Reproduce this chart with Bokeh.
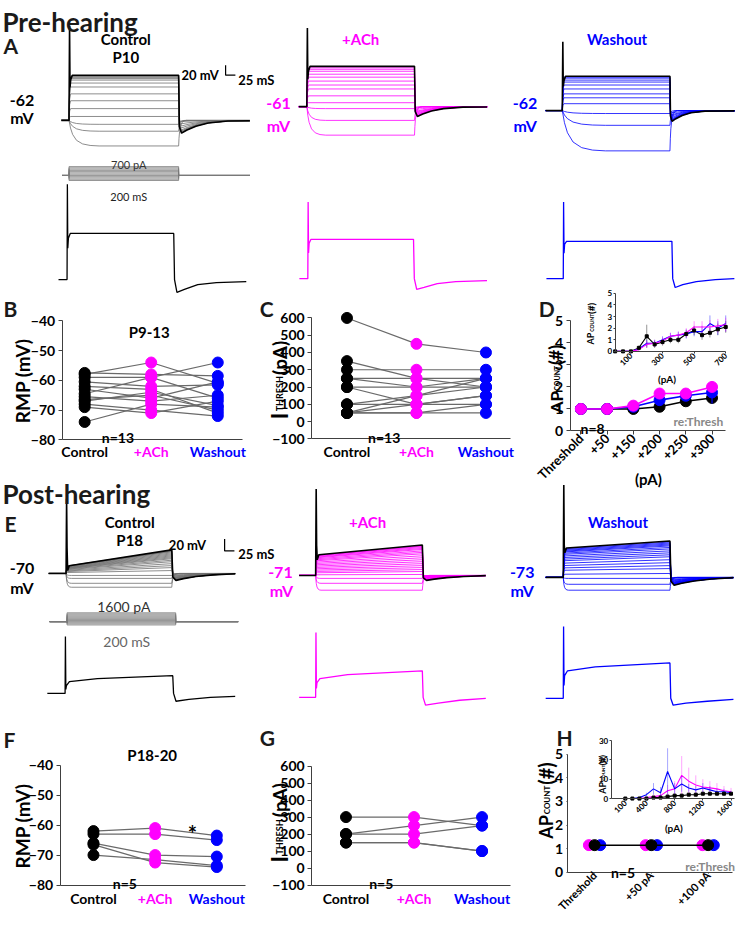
import math
from bokeh.plotting import figure
from bokeh.models import Range1d, Label, FixedTicker, LinearAxis
from bokeh.embed import file_html
from bokeh.resources import INLINE

# ======================= DATA =======================
conditions = ["Control", "+ACh", "Washout"]
cond_x = [1, 2, 3]

# B: RMP pre-hearing (mV), one entry per cell
rmp_pre_ctrl = [-57.5, -58, -59, -60.5, -62, -63, -64.5, -65.5, -66.5, -67, -68, -69, -74]
rmp_pre_ach = [-58, -54, -59, -62, -63, -66, -59, -67, -65, -64, -70, -71, -68]
rmp_pre_wash = [-58.5, -61, -54, -61.5, -71, -60.5, -66, -65, -70, -68.5, -72, -67, -69]

# C: I_thresh pre-hearing (pA)
ith_pre_ctrl = [600, 350, 300, 250, 250, 200, 200, 100, 100, 50, 50, 50, 50]
ith_pre_ach = [450, 250, 300, 250, 200, 100, 200, 150, 100, 100, 50, 50, 150]
ith_pre_wash = [400, 200, 300, 250, 200, 150, 250, 250, 100, 150, 50, 100, 200]

# D: AP count re: threshold (pre-hearing)
ap_pre_steps = ["Threshold", "+50", "+150", "+200", "+250", "+300"]
ap_pre_ctrl = [1, 1, 1.0, 1.1, 1.35, 1.5]
ap_pre_ctrl_err = [0, 0, 0, 0.08, 0.1, 0.18]
ap_pre_wash = [1, 1, 1.1, 1.4, 1.6, 1.75]
ap_pre_wash_err = [0, 0, 0.05, 0.12, 0.15, 0.5]
ap_pre_ach = [1, 1, 1.15, 1.7, 1.7, 2.0]
ap_pre_ach_err = [0, 0, 0.05, 0.1, 0.1, 0.15]

# D inset: AP count vs injected current (pA)
inset_pre_pa = [0, 50, 100, 150, 200, 250, 300, 350, 400, 450, 500, 550, 600, 650, 700]
inset_pre_ctrl = [0, 0, 0, 0.3, 1.3, 0.6, 0.8, 1.0, 1.0, 1.5, 1.8, 1.4, 1.6, 1.9, 2.1]
inset_pre_ctrl_err = [0, 0, 0, 0.2, 1.0, 0.3, 0.3, 0.3, 0.3, 0.3, 0.4, 0.4, 0.4, 0.5, 0.5]
inset_pre_wash = [0, 0, 0, 0.2, 0.7, 0.7, 1.0, 1.3, 1.4, 1.5, 1.7, 1.7, 2.4, 2.0, 2.4]
inset_pre_wash_err = [0, 0, 0, 0.1, 0.3, 0.3, 0.3, 0.3, 0.3, 0.4, 0.4, 0.5, 0.7, 0.6, 0.7]
inset_pre_ach = [0, 0, 0, 0.15, 0.6, 0.7, 0.9, 1.3, 1.4, 1.6, 2.1, 2.1, 2.1, 2.2, 2.3]
inset_pre_ach_err = [0, 0, 0, 0.1, 0.3, 0.3, 0.3, 0.3, 0.3, 0.4, 0.5, 0.5, 0.6, 0.6, 0.6]

# F: RMP post-hearing (mV)
rmp_post_ctrl = [-62, -63, -66, -66.5, -70]
rmp_post_ach = [-61, -63, -70, -72.5, -71.5]
rmp_post_wash = [-63.5, -65, -70.5, -74, -73.5]

# G: I_thresh post-hearing (pA)
ith_post_ctrl = [300, 200, 200, 150, 150]
ith_post_ach = [300, 250, 200, 150, 150]
ith_post_wash = [250, 300, 250, 100, 100]

# H: AP count re: threshold (post-hearing)
ap_post_steps = ["Threshold", "+50 pA", "+100 pA"]
ap_post_ctrl = [1.15, 1.15, 1.15]
ap_post_ach = [1.15, 1.15, 1.15]
ap_post_wash = [1.15, 1.15, 1.15]

# H inset
inset_post_pa = [100, 200, 300, 400, 500, 600, 700, 800, 900, 1000, 1100, 1200, 1300, 1400, 1500, 1600]
inset_post_ctrl = [0, 0, 0, 0, 0.5, 0.5, 1, 1.5, 1.5, 2, 2, 2.5, 2.5, 2.5, 2.5, 2.5]
inset_post_ctrl_err = [0, 0, 0, 0, 0.3, 0.3, 0.5, 0.5, 0.5, 0.5, 0.5, 0.5, 0.5, 0.5, 0.5, 0.5]
inset_post_ach = [0, 0, 0, 0.5, 1, 1.5, 4, 5, 12, 9, 7, 6, 5.5, 5, 4, 3.5]
inset_post_ach_err = [0, 0, 0, 0.5, 1, 1.5, 3, 4, 10, 7, 5, 4, 3.5, 3, 2.5, 2]
inset_post_wash = [0, 0, 0.5, 2, 5, 3, 14, 5, 7.5, 5.5, 4.5, 5.5, 4.5, 3.5, 3.5, 3]
inset_post_wash_err = [0, 0, 0.5, 1, 3, 3, 12, 3, 4, 2, 2, 2.5, 2, 1.5, 1.5, 1]

# Current-clamp protocols (pA)
pre_stim_pa = [-400, -300, -200, -100, 0, 100, 200, 300, 400, 500, 600, 700]
post_stim_pa = [-600, -400, -200, 0, 200, 400, 600, 800, 1000, 1200, 1400, 1600]

# Sweep families: resting potential, steady levels (mV), top sweep level, spike peak
pre_ctrl_rmp, pre_ach_rmp, pre_wash_rmp = -62, -61, -62
post_ctrl_rmp, post_ach_rmp, post_wash_rmp = -70, -71, -73
pre_ctrl_levels = [-88, -73, -66, -58, -50, -42, -35, -28, -24, -21, -19.5, -18.5, -17.5, -17]
pre_ctrl_top, pre_ctrl_peak = -16, 34
pre_ach_levels = [-90, -75, -63, -57, -50, -43, -39, -35, -31, -28, -25, -23, -21.5]
pre_ach_top, pre_ach_peak = -20, 19
pre_wash_levels = [-103, -77, -65, -55, -49, -45, -40, -36, -33, -31, -29, -28]
pre_wash_top, pre_wash_peak = -27, 8
post_ctrl_levels = [-84, -80, -75, -72, -67, -64, -62, -60, -58, -56.5, -55, -54, -53, -52,
                    -51, -50, -49, -48, -47.5, -47, -46.5]
post_ctrl_top, post_ctrl_peak = -46, 6
post_ach_levels = [-86, -79, -74, -70, -67, -65, -63, -61, -59, -57, -55, -53, -51, -49,
                   -47.5, -46, -44.5, -43.5, -42.5, -41.5, -41]
post_ach_top, post_ach_peak = -40, 17
post_wash_levels = [-86, -80, -74, -69, -64, -61, -58, -55, -52, -50, -48, -46, -44,
                    -42.5, -41, -40, -39, -38, -37]
post_wash_top, post_wash_peak = -36, 21

# Representative single sweeps (ms, mV)
single_pre_ctrl_t = [-16, 0, 0.6, 1.4, 2.5, 6, 200, 201.5, 206, 220, 245, 280, 336]
single_pre_ctrl_v = [-62, -62, 35, -30, -20, -15, -15, -62, -75, -72, -67, -65, -64]
single_pre_ach_t = [-16, 0, 0.6, 1.4, 2.5, 6, 200, 201.5, 206, 220, 245, 280, 339]
single_pre_ach_v = [-61, -61, 17, -35, -25, -21, -21, -61, -72, -70, -66, -64, -63]
single_pre_wash_t = [-31, 0, 0.6, 1.4, 2.5, 6, 200, 201.5, 206, 220, 245, 280, 315]
single_pre_wash_v = [-62, -62, 16, -36, -27, -24, -24, -62, -71, -68, -65, -63, -62]
single_post_ctrl_t = [-33, 0, 0.6, 1.4, 2.5, 8, 60, 200, 201.5, 206, 230, 270, 316]
single_post_ctrl_v = [-70, -70, -12, -66, -62, -58, -55, -52, -70, -78, -76, -74, -73]
single_post_ach_t = [-31, 0, 0.6, 1.4, 2.5, 8, 60, 200, 201.5, 206, 230, 270, 319]
single_post_ach_v = [-71, -71, -5, -62, -56, -52, -48, -44, -71, -79, -77, -74, -72]
single_post_wash_t = [-33, 0, 0.6, 1.4, 2.5, 8, 60, 200, 201.5, 206, 230, 270, 319]
single_post_wash_v = [-73, -73, 0, -60, -50, -45, -41, -37, -73, -80, -78, -76, -74]

# ======================= LAYOUT / STYLE =======================
W, H = 736, 915
SX, SY = W / 752.0, H / 931.0
def X(x): return x * SX
def Y(y): return y * SY
def lin(u, ua, ub, da, db): return da + (u - ua) * (db - da) / (ub - ua)

FONT = "Lato"
MAG, BLU, BLK = "#FF00FF", "#0000FF", "#000000"
GRY = "#707070"
LINEG = "#6a6a6a"
AXC = "#404040"
cond_colors = [BLK, MAG, BLU]

HYP_T = [0, 0.05, 0.12, 0.25, 0.45, 0.7, 1.0]
HYP_F = [0, 0.3, 0.55, 0.78, 0.92, 0.98, 1.0]
RET = 14
AHP_T = [0.015, 0.06, 0.17, 0.35, 0.6, 1.0]
AHP_G = [0.5, 1.0, 0.75, 0.45, 0.2, 0.05]

FAM_LAYOUT = {
    "A1": dict(on=70, off=182, base=122, t0=-14, t1=330, r=1.0, settle=55, D=13, rec=90),
    "A2": dict(on=313, off=423, base=108, t0=-15, t1=335, r=1.0, settle=35, D=10, rec=90),
    "A3": dict(on=574, off=684, base=112, t0=-31, t1=320, r=1.0, settle=80, D=11, rec=65),
    "E1": dict(on=67, off=175, base=583, t0=-33, t1=320, r=0.33, settle=10, D=7, rec=130),
    "E2": dict(on=322, off=431, base=585, t0=-31, t1=319, r=0.68, settle=10, D=5, rec=130),
    "E3": dict(on=575, off=684, base=587, t0=-33, t1=319, r=0.81, settle=10, D=8, rec=130),
}
SINGLE_LAYOUT = {
    "A1s": dict(on=68, off=177, base=284), "A2s": dict(on=314, off=422, base=283),
    "A3s": dict(on=575, off=686, base=283), "E1s": dict(on=66, off=176, base=705),
    "E2s": dict(on=322, off=431, base=709), "E3s": dict(on=575, off=684, base=710),
}
STIM_LAYOUT = {
    "A1p": dict(on=70, off=182, y0=178, y1=169, amp1=700, t0=-12.5, t1=330),
    "E1p": dict(on=68, off=179, y0=632, y1=623, amp1=1600, t0=-32, t1=315),
}

p = figure(width=W, height=H, x_range=Range1d(0, W), y_range=Range1d(H, 0),
           min_border=0, toolbar_location=None, output_backend="svg",
           x_axis_location=None, y_axis_location=None)
p.outline_line_color = None
p.background_fill_color = "white"
p.border_fill_color = "white"
p.grid.grid_line_color = None

xr, yr = {}, {}
def reg(name, xa, xb, da, db, ya, yb, va, vb):
    xr[name] = Range1d(lin(0, X(xa), X(xb), da, db), lin(W, X(xa), X(xb), da, db))
    yr[name] = Range1d(lin(H, Y(ya), Y(yb), va, vb), lin(0, Y(ya), Y(yb), va, vb))

fams = [
    ("A1", pre_ctrl_rmp, pre_ctrl_levels, pre_ctrl_top, pre_ctrl_peak, GRY),
    ("A2", pre_ach_rmp, pre_ach_levels, pre_ach_top, pre_ach_peak, MAG),
    ("A3", pre_wash_rmp, pre_wash_levels, pre_wash_top, pre_wash_peak, BLU),
    ("E1", post_ctrl_rmp, post_ctrl_levels, post_ctrl_top, post_ctrl_peak, GRY),
    ("E2", post_ach_rmp, post_ach_levels, post_ach_top, post_ach_peak, MAG),
    ("E3", post_wash_rmp, post_wash_levels, post_wash_top, post_wash_peak, BLU),
]
singles = [
    ("A1s", pre_ctrl_rmp, single_pre_ctrl_t, single_pre_ctrl_v, BLK),
    ("A2s", pre_ach_rmp, single_pre_ach_t, single_pre_ach_v, MAG),
    ("A3s", pre_wash_rmp, single_pre_wash_t, single_pre_wash_v, BLU),
    ("E1s", post_ctrl_rmp, single_post_ctrl_t, single_post_ctrl_v, BLK),
    ("E2s", post_ach_rmp, single_post_ach_t, single_post_ach_v, MAG),
    ("E3s", post_wash_rmp, single_post_wash_t, single_post_wash_v, BLU),
]
for name, V0, *_ in fams:
    s = FAM_LAYOUT[name]
    reg(name, s["on"], s["off"], 0, 200, s["base"], s["base"] - 100, V0, V0 + 100)
for name, V0, *_ in singles:
    s = SINGLE_LAYOUT[name]
    reg(name, s["on"], s["off"], 0, 200, s["base"], s["base"] - 100, V0, V0 + 100)
for name, s in STIM_LAYOUT.items():
    reg(name, s["on"], s["off"], 0, 200, s["y0"], s["y1"], 0, s["amp1"])

PANELS = {
    "B": dict(frame=(63, 326, 247, 447), xa=(86, 1, 222, 3), ya=(447, -80, 326, -40)),
    "C": dict(frame=(318, 323, 521, 446), xa=(354, 1, 496, 3), ya=(446, -100, 323, 600)),
    "D": dict(frame=(582, 326, 741, 438), xa=(593, 1, 727, 6), ya=(438, 0, 326, 5)),
    "Di": dict(frame=(628, 298, 741, 357), xa=(628, 0, 741, 700), ya=(357, 0, 298, 5)),
    "F": dict(frame=(61, 778, 250, 900), xa=(95, 1, 221, 3), ya=(900, -80, 778, -40)),
    "G": dict(frame=(318, 779, 521, 900), xa=(353, 1, 492, 3), ya=(900, -100, 779, 600)),
    "H": dict(frame=(579, 767, 748, 887), xa=(607, 1, 723, 3), ya=(887, 0, 767, 5)),
    "Hi": dict(frame=(624, 753, 750, 812), xa=(624, -100, 750, 1650), ya=(812, 0, 753, 30)),
}
LIMS = {}
for name, s in PANELS.items():
    xa, ya, fr = s["xa"], s["ya"], s["frame"]
    reg(name, xa[0], xa[2], xa[1], xa[3], ya[0], ya[2], ya[1], ya[3])
    LIMS[name] = (lin(X(fr[0]), X(xa[0]), X(xa[2]), xa[1], xa[3]),
                  lin(X(fr[2]), X(xa[0]), X(xa[2]), xa[1], xa[3]),
                  lin(Y(fr[3]), Y(ya[0]), Y(ya[2]), ya[1], ya[3]),
                  lin(Y(fr[1]), Y(ya[0]), Y(ya[2]), ya[1], ya[3]))

p.extra_x_ranges = xr
p.extra_y_ranges = yr


def sweep(V0, Le, Ltop, s, peak=None):
    t0, t1 = s["t0"], s["t1"]
    if Le < V0:
        ts, vs = [t0, 0], [V0, V0]
        for f, g in zip(HYP_T[1:], HYP_F[1:]):
            ts.append(f * s["settle"]); vs.append(V0 + g * (Le - V0))
        ts.append(200); vs.append(Le)
        for f, g in zip(HYP_T[1:], HYP_F[1:]):
            ts.append(200 + f * RET); vs.append(Le + g * (V0 - Le))
        ts.append(t1); vs.append(V0)
        return ts, vs
    Ls = V0 + s["r"] * (Le - V0)
    d = s["D"] * (Le - V0) / (Ltop - V0)
    if peak is None:
        ts, vs = [t0, 0, 1.2, 3], [V0, V0, V0 + 0.8 * (Ls - V0), Ls]
    else:
        ts = [t0, 0, 0.5, 1.0, 1.8, 3, 6]
        vs = [V0, V0, (V0 + peak) / 2, peak, V0 + 0.35 * (peak - V0), Ls - 5, Ls]
    ts.append(200); vs.append(Le)
    for f, g in zip(AHP_T, AHP_G):
        tt = 200 + f * s["rec"]
        if tt < t1:
            ts.append(tt); vs.append(V0 - g * d)
    ts.append(t1); vs.append(V0 - 0.03 * d)
    return ts, vs

# ---------------- traces ----------------
for name, amps in (("A1p", pre_stim_pa), ("E1p", post_stim_pa)):
    s = STIM_LAYOUT[name]
    xs = [[s["t0"], 0, 0, 200, 200, s["t1"]] for a in amps]
    ys = [[0, 0, a, a, 0, 0] for a in amps]
    p.multi_line(xs, ys, x_range_name=name, y_range_name=name, line_color="#7a7a7a", line_width=0.8)

for name, V0, levels, top, peak, col in fams:
    s = FAM_LAYOUT[name]
    xs, ys = [], []
    for L in levels:
        t, v = sweep(V0, L, top, s)
        xs.append(t); ys.append(v)
    p.multi_line(xs, ys, x_range_name=name, y_range_name=name, line_color=col, line_width=0.8)
    t, v = sweep(V0, top, top, s, peak)
    p.line(t, v, x_range_name=name, y_range_name=name, line_color=BLK, line_width=1.6)

for name, V0, t, v, col in singles:
    p.line(t, v, x_range_name=name, y_range_name=name, line_color=col, line_width=1.3)

for (bx, by0, by1) in ((230, 66, 76), (229, 548, 560)):
    p.line([X(bx), X(bx), X(bx + 10)], [Y(by0), Y(by1), Y(by1)], line_color=BLK, line_width=1.2)


def lab(text, x, y, size, color=BLK, style="bold", align="left",
        baseline="alphabetic", angle=0.0, xname="default", yname="default"):
    p.add_layout(Label(x=x, y=y, text=text, text_font=FONT, text_font_size=f"{size}px",
                       text_font_style=style, text_color=color, text_align=align,
                       text_baseline=baseline, angle=angle,
                       x_range_name=xname, y_range_name=yname))

def T(text, x, y, size, color=BLK, style="bold", align="left", baseline="alphabetic", angle=0.0):
    lab(text, X(x), Y(y), size, color, style, align, baseline, angle)

R90 = math.pi / 2
DARK = "#1a1a1a"
T("Pre-hearing", 2, 22, 26, DARK)
T("A", 3, 46, 21, DARK)
T("Control", 128, 39, 15, align="center")
T("P10", 128, 57, 15, align="center")
T("20 mV", 185, 76, 13)
T("25 mS", 243, 81, 13)
T("-62", 22, 102, 16, align="center")
T("mV", 22, 119, 16, align="center")
T("700 pA", 131, 167, 11, "#333333", "normal", "center")
T("200 mS", 131, 199, 11, "#222222", "normal", "center")
T("+ACh", 368, 39, 15, MAG, align="center")
T("-61", 284, 105, 16, MAG, align="center")
T("mV", 284, 127, 16, MAG, align="center")
T("Washout", 630, 39, 15, BLU, align="center")
T("-62", 536, 105, 16, BLU, align="center")
T("mV", 536, 127, 16, BLU, align="center")
T("B", 3, 313, 21, DARK)
T("RMP (mV)", 22, 387, 19, align="center", baseline="middle", angle=R90)
T("P9-13", 152, 337, 15, align="center")
T("n=13", 120, 445, 14, align="center")
T("C", 265, 313, 21, DARK)
T("I", 285, 426, 22, angle=R90)
T("THRESH", 285, 418, 9, angle=R90)
T("(pA)", 285, 381, 19, angle=R90)
T("n=13", 392, 445, 14, align="center")
T("D", 550, 313, 21, DARK)
T("AP", 568, 420, 17, angle=R90)
T("COUNT", 569, 397, 7, angle=R90)
T("(#)", 568, 371, 18, angle=R90)
T("n=8", 605, 435, 14, align="center")
T("re:Thresh", 713, 428, 12, "#888888", align="center")
T("(pA)", 662, 487, 15, align="center")
T("AP", 603, 350, 9, angle=R90)
T("COUNT", 604, 337, 5, angle=R90)
T("(#)", 603, 319, 10, angle=R90)
T("(pA)", 681, 385, 10, align="center")
T("Post-hearing", 2, 502, 26, DARK)
T("E", 4, 532, 21, DARK)
T("Control", 132, 531, 15, align="center")
T("P18", 132, 549, 15, align="center")
T("20 mV", 172, 554, 13)
T("25 mS", 243, 563, 13)
T("-70", 22, 578, 16, align="center")
T("mV", 22, 597, 16, align="center")
T("1600 pA", 126, 617, 14, "#333333", "normal", "center")
T("200 mS", 129, 652, 14, "#666666", "normal", "center")
T("+ACh", 375, 531, 15, MAG, align="center")
T("-71", 286, 582, 16, MAG, align="center")
T("mV", 287, 600, 16, MAG, align="center")
T("Washout", 631, 531, 15, BLU, align="center")
T("-73", 533, 582, 16, BLU, align="center")
T("mV", 533, 600, 16, BLU, align="center")
T("F", 3, 752, 21, DARK)
T("RMP (mV)", 22, 840, 19, align="center", baseline="middle", angle=R90)
T("P18-20", 155, 768, 15, align="center")
T("*", 196, 848, 22, align="center")
T("n=5", 127, 898, 14, align="center")
T("G", 265, 750, 21, DARK)
T("I", 285, 877, 22, angle=R90)
T("THRESH", 285, 869, 9, angle=R90)
T("(pA)", 285, 831, 19, angle=R90)
T("n=5", 389, 898, 14, align="center")
T("H", 568, 750, 21, DARK)
T("AP", 557, 853, 18, angle=R90)
T("COUNT", 558, 828, 8, angle=R90)
T("(#)", 557, 798, 20, angle=R90)
T("n=5", 636, 887, 14, align="center")
T("re:Thresh", 725, 881, 12, "#888888", align="center")
T("AP", 615, 807, 9, angle=R90)
T("COUNT", 616, 794, 4.5, angle=R90)
T("(#)", 615, 778, 9, angle=R90)
T("(pA)", 688, 842, 10, align="center")

# ---------------- axes (fixed inside the canvas) ----------------
def style_axis(ax, size, tick_out=4, standoff=3):
    ax.axis_line_color = AXC
    ax.axis_line_width = 1
    ax.major_tick_line_color = AXC
    ax.major_tick_in = 0
    ax.major_tick_out = tick_out
    ax.minor_tick_line_color = None
    ax.major_label_text_font = FONT
    ax.major_label_text_font_style = "bold"
    ax.major_label_text_font_size = f"{size}px"
    ax.major_label_text_color = BLK
    ax.major_label_standoff = standoff

def add_axes(name, yticks, xticks, size=14, ybounds=None, xsize=None, overrides=None,
             orient=None, tick_out=4, standoff=3, xstandoff=None):
    xl, xrr, yb, yt = LIMS[name]
    yax = LinearAxis(x_range_name=name, y_range_name=name, fixed_location=xl,
                     ticker=FixedTicker(ticks=yticks), bounds=ybounds if ybounds else (yb, yt))
    style_axis(yax, size, tick_out, standoff)
    p.add_layout(yax, "left")
    xax = LinearAxis(x_range_name=name, y_range_name=name, fixed_location=yb,
                     ticker=FixedTicker(ticks=xticks), bounds=(xl, xrr))
    style_axis(xax, xsize if xsize else size, tick_out if xticks else 0,
               standoff if xstandoff is None else xstandoff)
    if overrides:
        xax.major_label_overrides = overrides
    if orient is not None:
        xax.major_label_orientation = orient
    p.add_layout(xax, "below")

def cat_labels(name, yref, size=14):
    for cx, nm, col in zip(cond_x, conditions, cond_colors):
        lab(nm, cx, Y(yref), size, col, align="center", xname=name)

def paired(name, ctrl, ach, wash, size):
    n = len(ctrl)
    p.multi_line([cond_x] * n, [[c, a, w] for c, a, w in zip(ctrl, ach, wash)],
                 x_range_name=name, y_range_name=name, line_color=LINEG, line_width=1.2)
    for cx, vals, col in zip(cond_x, (ctrl, ach, wash), cond_colors):
        p.scatter([cx] * n, vals, size=size, color=col, x_range_name=name, y_range_name=name)

# B
add_axes("B", [-80, -70, -60, -50, -40], [])
paired("B", rmp_pre_ctrl, rmp_pre_ach, rmp_pre_wash, 11)
cat_labels("B", 459)
# C
add_axes("C", list(range(-100, 601, 100)), [])
paired("C", ith_pre_ctrl, ith_pre_ach, ith_pre_wash, 11)
cat_labels("C", 459)
# D main
step_x = list(range(1, len(ap_pre_steps) + 1))
add_axes("D", [0, 1, 2, 3, 4, 5], step_x, size=14, xsize=13,
         overrides={k: v for k, v in zip(step_x, ap_pre_steps)}, orient=math.pi / 4,
         xstandoff=1)
for vals, err, col in ((ap_pre_ctrl, ap_pre_ctrl_err, BLK), (ap_pre_wash, ap_pre_wash_err, BLU),
                       (ap_pre_ach, ap_pre_ach_err, MAG)):
    p.segment(step_x, [v - e for v, e in zip(vals, err)], step_x, [v + e for v, e in zip(vals, err)],
              x_range_name="D", y_range_name="D", line_color=col, line_width=1.2)
    p.line(step_x, vals, x_range_name="D", y_range_name="D", line_color=col, line_width=1.6)
    p.scatter(step_x, vals, size=11, color=col, x_range_name="D", y_range_name="D")
# D inset
add_axes("Di", [0, 1, 2, 3, 4, 5], [100, 300, 500, 700], size=8, orient=math.pi / 4,
         tick_out=2, standoff=1)
for vals, err, col in ((inset_pre_ctrl, inset_pre_ctrl_err, BLK), (inset_pre_wash, inset_pre_wash_err, BLU),
                       (inset_pre_ach, inset_pre_ach_err, MAG)):
    p.segment(inset_pre_pa, [v - e for v, e in zip(vals, err)], inset_pre_pa,
              [v + e for v, e in zip(vals, err)], x_range_name="Di", y_range_name="Di",
              line_color=col, line_width=0.7, line_alpha=0.6)
    p.line(inset_pre_pa, vals, x_range_name="Di", y_range_name="Di", line_color=col, line_width=1.1)
p.scatter(inset_pre_pa, inset_pre_ctrl, size=3, color=BLK, marker="square", x_range_name="Di", y_range_name="Di")
# F
add_axes("F", [-80, -70, -60, -50, -40], [])
paired("F", rmp_post_ctrl, rmp_post_ach, rmp_post_wash, 11)
cat_labels("F", 914)
# G
add_axes("G", list(range(-100, 601, 100)), [])
paired("G", ith_post_ctrl, ith_post_ach, ith_post_wash, 11)
cat_labels("G", 914)
# H main
hx = list(range(1, len(ap_post_steps) + 1))
DODGE = 0.1
add_axes("H", [0, 1, 2, 3, 4, 5], hx, size=14, xsize=11,
         overrides={k: v for k, v in zip(hx, ap_post_steps)}, orient=math.pi / 4,
         tick_out=1, xstandoff=0)
p.scatter([x - DODGE for x in hx], ap_post_ach, size=11, color=MAG, x_range_name="H", y_range_name="H")
p.scatter([x + DODGE for x in hx], ap_post_wash, size=11, color=BLU, x_range_name="H", y_range_name="H")
p.line(hx, ap_post_ctrl, line_color=BLK, line_width=1.5, x_range_name="H", y_range_name="H")
p.scatter(hx, ap_post_ctrl, size=11, color=BLK, x_range_name="H", y_range_name="H")
# H inset
add_axes("Hi", [0, 10, 20, 30], [100, 400, 800, 1200, 1600], size=8, orient=math.pi / 4,
         tick_out=2, standoff=1)
for vals, err, col in ((inset_post_ctrl, inset_post_ctrl_err, BLK), (inset_post_ach, inset_post_ach_err, MAG),
                       (inset_post_wash, inset_post_wash_err, BLU)):
    p.segment(inset_post_pa, [v - e for v, e in zip(vals, err)], inset_post_pa,
              [v + e for v, e in zip(vals, err)], x_range_name="Hi", y_range_name="Hi",
              line_color=col, line_width=0.7, line_alpha=0.5)
    p.line(inset_post_pa, vals, x_range_name="Hi", y_range_name="Hi", line_color=col, line_width=1.1)
p.scatter(inset_post_pa, inset_post_ctrl, size=3, color=BLK, marker="square", x_range_name="Hi", y_range_name="Hi")

open("out.html", "w").write(file_html(p, INLINE))
